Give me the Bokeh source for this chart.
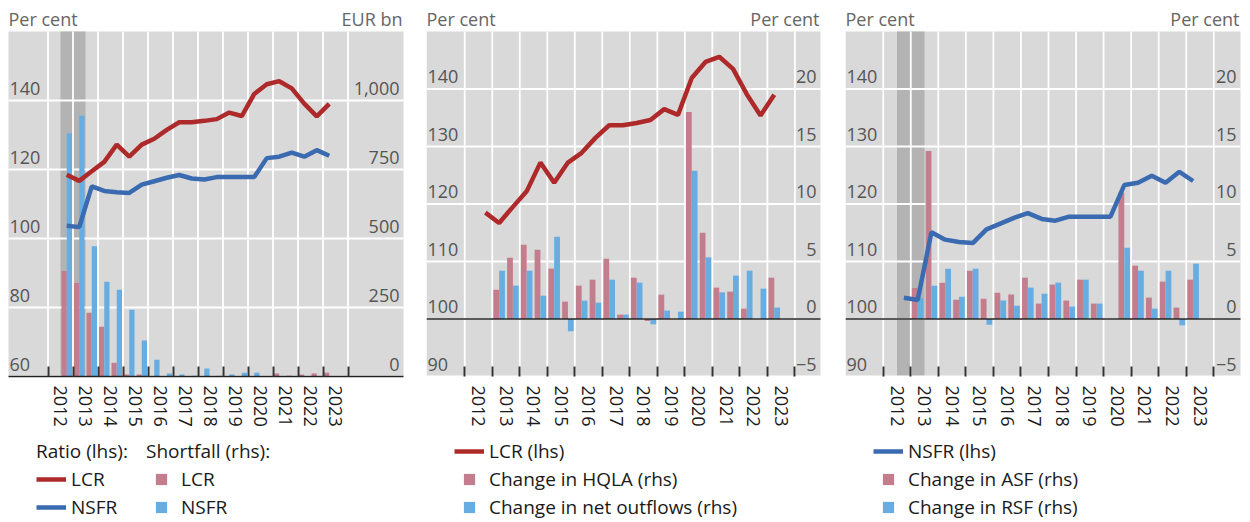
import numpy as np
from bokeh.plotting import figure
from bokeh.models import (Range1d, LinearAxis, FixedTicker, PrintfTickFormatter, NumeralTickFormatter,
                          Label, Legend, LegendItem)
from bokeh.layouts import row
from bokeh.embed import file_html
from bokeh.resources import INLINE

# ---------------- data ----------------
periods = ["2012-H2", "2013-H1", "2013-H2", "2014-H1", "2014-H2", "2015-H1", "2015-H2",
           "2016-H1", "2016-H2", "2017-H1", "2017-H2", "2018-H1", "2018-H2", "2019-H1",
           "2019-H2", "2020-H1", "2020-H2", "2021-H1", "2021-H2", "2022-H1", "2022-H2", "2023-H1"]
years = [2012, 2013, 2014, 2015, 2016, 2017, 2018, 2019, 2020, 2021, 2022, 2023]
shaded_periods = ["2012-H2", "2013-H1"]

lcr = [118.5, 116.7, 119.5, 122.2, 127.2, 123.7, 127.2, 128.9, 131.5, 133.7, 133.7,
       134.1, 134.6, 136.5, 135.5, 141.9, 144.7, 145.6, 143.5, 139.1, 135.4, 139.0]
nsfr = [103.7, 103.3, 115.1, 113.8, 113.4, 113.2, 115.6, 116.6, 117.6, 118.4, 117.4,
        117.1, 117.8, 117.8, 117.8, 117.8, 123.3, 123.7, 124.9, 123.7, 125.6, 124.0]

# shortfall, EUR bn
lcr_shortfall = [382, 339, 231, 180, 50, 7, 7, 0, 0, 0, 0, 0, 0, 0, 0, 0, 0, 11, 3, 7, 11, 14]
nsfr_shortfall = [881, 945, 472, 343, 314, 242, 130, 61, 11, 7, 3, 29, 3, 7, 14, 14, 0, 0, 0, 0, 0, 0]

# changes, per cent
hqla_change = [None, 2.55, 5.33, 6.46, 6.02, 4.38, 1.51, 2.90, 3.42, 5.24, 0.38,
               3.59, -0.17, 2.12, 0.0, 18.0, 7.5, 2.73, 2.38, 0.90, 0.0, 3.59]
outflows_change = [None, 4.20, 2.90, 4.20, 2.03, 7.15, -1.07, 1.60, 1.42, 3.42, 0.38,
                   3.16, -0.46, 0.73, 0.64, 12.9, 5.36, 2.32, 3.77, 4.20, 2.64, 0.99]
asf_change = [None, 2.70, 14.6, 3.16, 1.68, 4.20, 1.77, 2.29, 2.12, 3.59, 1.34,
              2.99, 1.60, 3.42, 1.34, 0.0, 11.0, 4.64, 1.86, 3.25, 0.99, 3.42]
rsf_change = [None, 1.8, 2.90, 4.38, 1.94, 4.38, -0.49, 1.60, 1.16, 2.73, 2.20,
              3.16, 1.08, 3.42, 1.34, 0.0, 6.20, 4.20, 0.90, 4.20, -0.55, 4.81]

lhs_ticks_1 = [60, 80, 100, 120, 140]
rhs_ticks_1 = [0, 250, 500, 750, 1000]
lhs_ticks_2 = [90, 100, 110, 120, 130, 140]
rhs_ticks_2 = [-5, 0, 5, 10, 15, 20]

# ---------------- style / layout ----------------
FONT = "Open Sans"
BG = "#d9d9d9"
SHADE = "#b3b3b3"
RED = "#ae2a2a"
BLUE = "#3a6bb0"
PINK = "#c47d8c"
LBLUE = "#67ade2"
FIG_H = 520
PLOT_TOP = 31          # px from figure top to top of grey plot area
PLOT_BOTTOM = 376      # px from figure top to bottom of grey plot area
LAB_SHIFT = 12.5       # tick labels sit above their grid line
BAR_W = 0.21
LEG_Y = -1


def period_x(p):
    y, h = p.split("-")
    return int(y) + (0.25 if h == "H1" else 0.75)


x = np.array([period_x(p) for p in periods])
x_bounds = [float(y) for y in years + [years[-1] + 1]]


def arr(v):
    return np.array([np.nan if a is None else a for a in v], dtype=float)


def make_panel(fig_w, gl, gr, xd, lhs, rhs, lhs_ticks, rhs_ticks, rhs_fmt, title_l, title_r):
    # xd: data x-limits of grey area; gl/gr: pixel limits of grey area within the figure
    ppx = (gr - gl) / (xd[1] - xd[0])
    xr = (xd[0] - gl / ppx, xd[1] + (fig_w - gr) / ppx)
    ph = PLOT_BOTTOM - PLOT_TOP

    def ext(r, shift=0.0):
        ppy = ph / (r[1] - r[0])
        s = shift / ppy
        return (r[0] - (FIG_H - PLOT_BOTTOM) / ppy - s, r[1] + PLOT_TOP / ppy - s)

    p = figure(width=fig_w, height=FIG_H, x_range=Range1d(*xr), y_range=Range1d(*ext(lhs)),
               output_backend="svg", toolbar_location=None, title=None,
               min_border=0, min_border_left=0, min_border_right=0, min_border_top=0,
               min_border_bottom=0, y_axis_location=None, x_axis_location="below",
               background_fill_color="white", border_fill_color="white", outline_line_color=None)
    p.extra_y_ranges = {
        "rhs": Range1d(*ext(rhs)),
        "lhs_lab": Range1d(*ext(lhs, LAB_SHIFT)),
        "rhs_lab": Range1d(*ext(rhs, LAB_SHIFT)),
    }
    for g in p.grid:
        g.visible = False

    # grey plotting area
    p.quad(left=[xd[0]], right=[xd[1]], bottom=[lhs[0]], top=[lhs[1]],
           fill_color=BG, line_color=None, level="image")
    # grid lines
    p.segment(x0=x_bounds, x1=x_bounds, y0=lhs[0], y1=lhs[1], line_color="white",
              line_width=1.8, level="underlay")
    p.segment(x0=xd[0], x1=xd[1], y0=lhs_ticks, y1=lhs_ticks, line_color="white",
              line_width=1.8, level="underlay")

    ax = p.xaxis[0]
    ax.fixed_location = lhs[0]
    ax.ticker = FixedTicker(ticks=[y + 0.5 for y in years], minor_ticks=x_bounds)
    ax.formatter = PrintfTickFormatter(format="%d")
    ax.axis_line_color = None
    ax.major_tick_line_color = None
    ax.major_tick_in = 0
    ax.major_tick_out = 0
    ax.minor_tick_line_color = "#333333"
    ax.minor_tick_line_width = 2
    ax.minor_tick_in = 10
    ax.minor_tick_out = 0
    ax.major_label_orientation = "vertical"
    ax.major_label_standoff = 9
    ax.major_label_text_font = FONT
    ax.major_label_text_font_size = "18px"
    ax.major_label_text_color = "#1a1a1a"

    la = LinearAxis(y_range_name="lhs_lab", fixed_location=xd[0],
                    ticker=FixedTicker(ticks=lhs_ticks))
    ra = LinearAxis(y_range_name="rhs_lab", fixed_location=xd[1],
                    ticker=FixedTicker(ticks=rhs_ticks), formatter=rhs_fmt)
    for a, so in ((la, 1), (ra, 4)):
        a.axis_line_color = None
        a.major_tick_line_color = None
        a.minor_tick_line_color = None
        a.major_tick_in = 0
        a.major_tick_out = 0
        a.major_label_standoff = so
        a.major_label_text_font = FONT
        a.major_label_text_font_size = "18px"
        a.major_label_text_color = "#555555"
    if rhs_ticks[0] < 0:
        ra.major_label_overrides = {t: "\u2212" + str(-t) for t in rhs_ticks if t < 0}
    p.add_layout(la, "right")
    p.add_layout(ra, "left")

    ty = FIG_H - 18.5
    p.add_layout(Label(x=gl, y=ty, x_units="screen", y_units="screen", text=title_l,
                       text_font=FONT, text_font_size="18px", text_color="#666666",
                       text_align="left", text_baseline="middle"))
    p.add_layout(Label(x=gr - 1, y=ty, x_units="screen", y_units="screen", text=title_r,
                       text_font=FONT, text_font_size="18px", text_color="#666666",
                       text_align="right", text_baseline="middle"))
    return p, xd


def shade(p, lhs):
    left = period_x(shaded_periods[0]) - 0.25
    right = period_x(shaded_periods[-1]) + 0.25
    p.quad(left=[left], right=[right], bottom=[lhs[0]], top=[lhs[1]],
           fill_color=SHADE, line_color=None, level="image")


def bars(p, a, b):
    p.vbar(x=x - BAR_W / 2, top=arr(a), bottom=0, width=BAR_W, fill_color=PINK,
           line_color=None, y_range_name="rhs")
    p.vbar(x=x + BAR_W / 2, top=arr(b), bottom=0, width=BAR_W, fill_color=LBLUE,
           line_color=None, y_range_name="rhs")


def zero_line(p, xd):
    p.segment(x0=[xd[0]], x1=[xd[1]], y0=[0], y1=[0], y_range_name="rhs",
              line_color="#222222", line_width=1.5)


def legend(items, xloc, title=None):
    kw = dict(items=items, location=(xloc, LEG_Y), glyph_width=30, glyph_height=28, label_height=28,
              spacing=0, padding=0, margin=0, label_standoff=5,
              label_text_font=FONT, label_text_font_size="19px", label_text_color="#1a1a1a",
              border_line_color=None, background_fill_alpha=0)
    if title:
        kw.update(title=title, title_text_font=FONT, title_text_font_size="19px",
                  title_text_font_style="normal", title_text_color="#1a1a1a", title_standoff=1)
    return Legend(**kw)


def legend_square(p, color):
    # legend-only glyph (a single missing point, nothing is drawn in the plot)
    return p.scatter(x=[np.nan], y=[np.nan], marker="square", fill_color=color, line_color=None)


# ---------------- panel 1 ----------------
L1 = (60, 160)
R1 = (0, 1250)
p1, xd1 = make_panel(426, 8, 403, (2010.42, 2026.22), L1, R1, lhs_ticks_1, rhs_ticks_1,
                     NumeralTickFormatter(format="0,0"), "Per cent", "EUR bn")
shade(p1, L1)
bars(p1, lcr_shortfall, nsfr_shortfall)
zero_line(p1, xd1)
r_lcr1 = p1.line(x, lcr, line_color=RED, line_width=4.5)
r_nsfr1 = p1.line(x, nsfr, line_color=BLUE, line_width=4.5)
s_p1 = legend_square(p1, PINK)
s_b1 = legend_square(p1, LBLUE)
p1.add_layout(legend([LegendItem(label="LCR", renderers=[r_lcr1]),
                      LegendItem(label="NSFR", renderers=[r_nsfr1])], 36, "Ratio (lhs):"))
p1.add_layout(legend([LegendItem(label="LCR", renderers=[s_p1]),
                      LegendItem(label="NSFR", renderers=[s_b1])], 146, "Shortfall (rhs):"))

# ---------------- panel 2 ----------------
L2 = (90, 150)
R2 = (-5, 25)
p2, xd2 = make_panel(419, 0, 394, (2010.61, 2024.93), L2, R2, lhs_ticks_2, rhs_ticks_2,
                     NumeralTickFormatter(format="0"), "Per cent", "Per cent")
bars(p2, hqla_change, outflows_change)
zero_line(p2, xd2)
r_lcr2 = p2.line(x, lcr, line_color=RED, line_width=4.5)
s_p2 = legend_square(p2, PINK)
s_b2 = legend_square(p2, LBLUE)
p2.add_layout(legend([LegendItem(label="LCR (lhs)", renderers=[r_lcr2]),
                      LegendItem(label="Change in HQLA (rhs)", renderers=[s_p2]),
                      LegendItem(label="Change in net outflows (rhs)", renderers=[s_b2])], 28))

# ---------------- panel 3 ----------------
p3, xd3 = make_panel(397, 0, 395, (2010.63, 2024.97), L2, R2, lhs_ticks_2, rhs_ticks_2,
                     NumeralTickFormatter(format="0"), "Per cent", "Per cent")
shade(p3, L2)
bars(p3, asf_change, rsf_change)
zero_line(p3, xd3)
r_nsfr3 = p3.line(x, nsfr, line_color=BLUE, line_width=4.5)
s_p3 = legend_square(p3, PINK)
s_b3 = legend_square(p3, LBLUE)
p3.add_layout(legend([LegendItem(label="NSFR (lhs)", renderers=[r_nsfr3]),
                      LegendItem(label="Change in ASF (rhs)", renderers=[s_p3]),
                      LegendItem(label="Change in RSF (rhs)", renderers=[s_b3])], 28))

layout = row(p1, p2, p3, spacing=0)
open("out.html", "w").write(file_html(layout, INLINE))
